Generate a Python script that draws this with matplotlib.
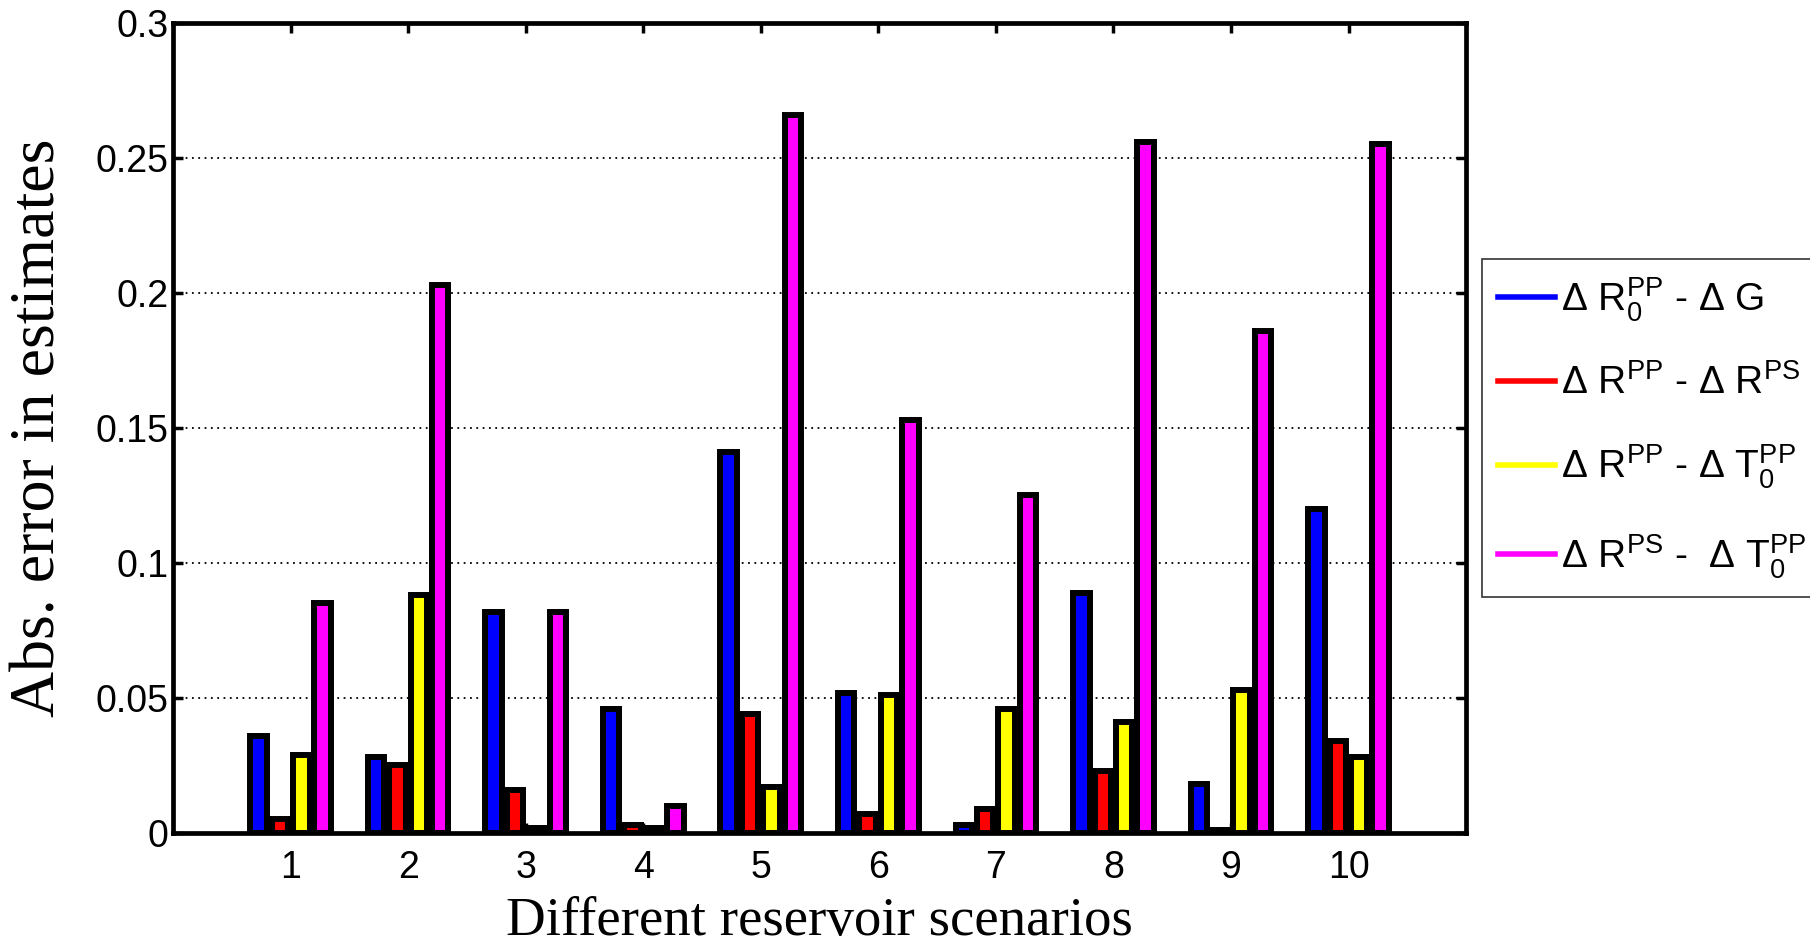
import numpy as np
import matplotlib
matplotlib.use('Agg')
import matplotlib.pyplot as plt
from matplotlib.lines import Line2D

plt.rcParams['font.family'] = ['Liberation Sans', 'DejaVu Sans']
plt.rcParams['mathtext.default'] = 'regular'

# absolute estimation errors for each reservoir scenario
scenarios = [1, 2, 3, 4, 5, 6, 7, 8, 9, 10]
err_r0_g = [0.036, 0.028, 0.082, 0.046, 0.141, 0.052, 0.003, 0.089, 0.018, 0.120]
err_rpp_rps = [0.005, 0.025, 0.016, 0.003, 0.044, 0.007, 0.009, 0.023, 0.001, 0.034]
err_rpp_t0 = [0.029, 0.088, 0.002, 0.002, 0.017, 0.051, 0.046, 0.041, 0.053, 0.028]
err_rps_t0 = [0.085, 0.203, 0.082, 0.010, 0.266, 0.153, 0.125, 0.256, 0.186, 0.255]

labels = [r'$\Delta$ R$_0^{PP}$ - $\Delta$ G',
          r'$\Delta$ R$^{PP}$ - $\Delta$ R$^{PS}$',
          r'$\Delta$ R$^{PP}$ - $\Delta$ T$_0^{PP}$',
          r'$\Delta$ R$^{PS}$ -  $\Delta$ T$_0^{PP}$']
colors = ['#0000ff', '#ff0000', '#ffff00', '#ff00ff']
yticks = [0, 0.05, 0.1, 0.15, 0.2, 0.25, 0.3]
ytick_labels = ['0', '0.05', '0.1', '0.15', '0.2', '0.25', '0.3']

series = [err_r0_g, err_rpp_rps, err_rpp_t0, err_rps_t0]

fig = plt.figure(figsize=(18.10, 9.46), dpi=100)
ax = fig.add_axes([0.0956, 0.1195, 0.7144, 0.8562])

x = np.array(scenarios, dtype=float)
pitch = 0.182
width = 0.14
for i, (vals, col) in enumerate(zip(series, colors)):
    ax.bar(x + (i - 1.5) * pitch, vals, width, color=col,
           edgecolor='black', linewidth=4.3, zorder=3)

ax.set_xlim(0, 11)
ax.set_ylim(0, 0.3)
ax.set_xticks(scenarios)
ax.set_xticklabels([str(s) for s in scenarios], fontsize=27)
ax.set_yticks(yticks)
ax.set_yticklabels(ytick_labels, fontsize=27)
ax.tick_params(direction='in', length=7, width=2.5, top=True, right=True)
ax.tick_params(axis='y', pad=3)
ax.tick_params(axis='x', pad=12)
for sp in ax.spines.values():
    sp.set_linewidth(3.4)
ax.yaxis.grid(True, color='black', linestyle=(0, (1, 2.5)), linewidth=1.3, zorder=1)

ax.set_xlabel('Different reservoir scenarios', family='Liberation Serif',
              fontsize=39.5, labelpad=8)
ax.set_ylabel('Abs. error in estimates', family='Liberation Serif',
              fontsize=46, labelpad=20)

handles = [Line2D([], [], color=c, linewidth=4) for c in colors]
fig.legend(handles, labels, loc='upper left', bbox_to_anchor=(0.8188, 0.7262),
           fontsize=28, frameon=True, fancybox=False, edgecolor='black',
           handlelength=1.45, handletextpad=0.15, borderpad=0.42,
           labelspacing=1.05, borderaxespad=0)
fig.legends[0].get_frame().set_linewidth(1.2)

plt.savefig('out.png', dpi=100)
plt.close()
